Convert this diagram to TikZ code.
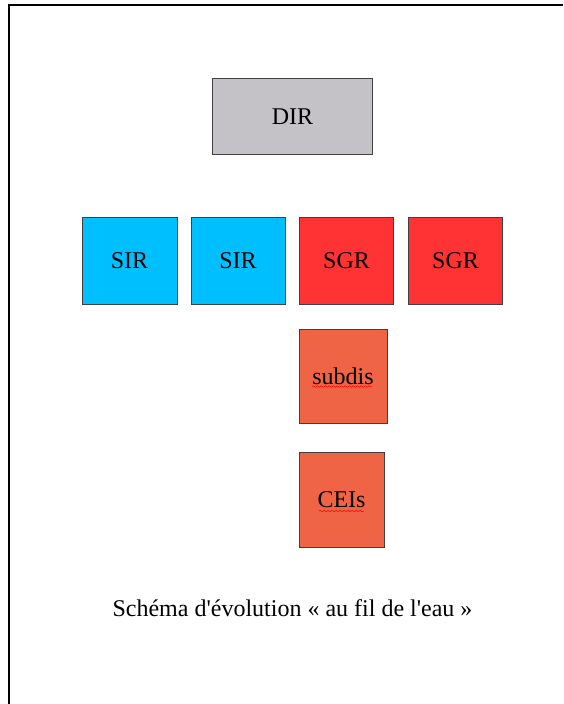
\documentclass[tikz,border=0pt]{standalone}
\usepackage{fontspec}
\setmainfont{Liberation Serif}
\usepackage{tikz}
\usetikzlibrary{decorations.pathmorphing}

\definecolor{dirgray}{HTML}{C4C2C6}
\definecolor{sirblue}{HTML}{00BFFF}
\definecolor{sgrred}{HTML}{FF3333}
\definecolor{suborange}{HTML}{F06446}
\definecolor{boxline}{HTML}{404040}

\begin{document}
\begin{tikzpicture}[x=1pt,y=-1pt,
    box/.style={draw=boxline,line width=0.8pt,inner sep=0pt,
      font=\fontsize{24}{28}\selectfont},
    squiggle/.style={red,line width=0.5pt,
      decorate,decoration={snake,amplitude=0.8pt,segment length=4pt}}]
          \useasboundingbox (0,0) rectangle (563,704);
          \draw[line width=1.2pt] (9,704) -- (9,5) -- (563,5);

          \node[box,fill=dirgray,minimum width=160pt,minimum height=76pt] (dir) at (292.5,116.5) {DIR};

          \node[box,fill=sirblue,minimum width=95pt,minimum height=87pt] (sira) at (129.5,260.5) {SIR};
          \node[box,fill=sirblue,minimum width=94pt,minimum height=87pt] (sirb) at (238,260.5) {SIR};
          \node[box,fill=sgrred,minimum width=94pt,minimum height=87pt] (sgra) at (346.5,260.5) {SGR};
          \node[box,fill=sgrred,minimum width=94pt,minimum height=87pt] (sgrb) at (455.5,260.5) {SGR};

          \node[box,fill=suborange,minimum width=88pt,minimum height=94pt] (subdis) at (343,376) {subdis};
          \node[box,fill=suborange,minimum width=85pt,minimum height=95pt] (ceis) at (341.5,500) {CEIs};

          \draw[squiggle] (312,386.5) -- (372,386.5);
          \draw[squiggle] (319,511) -- (364,511);

          \node[font=\fontsize{24}{28}\selectfont] (caption) at (292.5,608) {Schéma d\textquotesingle évolution « au fil de l\textquotesingle eau »};
        \end{tikzpicture}
\end{document}
